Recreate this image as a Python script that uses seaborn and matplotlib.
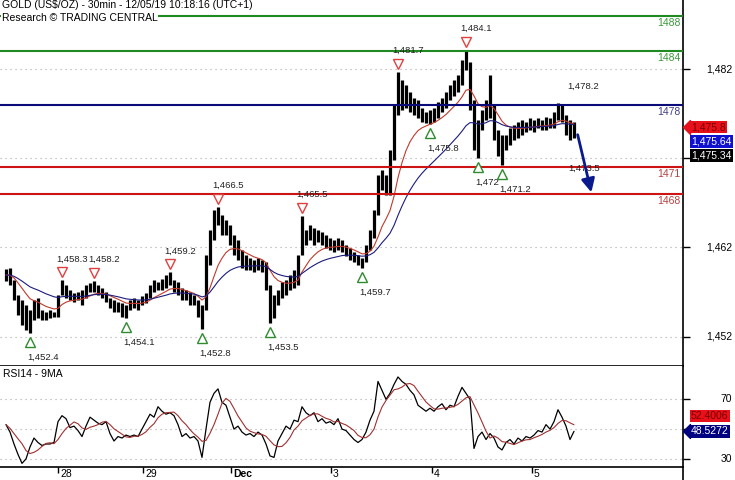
import numpy as np
import pandas as pd
import matplotlib
matplotlib.use("Agg")
import matplotlib.pyplot as plt
import seaborn as sns
from matplotlib import transforms
from matplotlib.lines import Line2D

# hourly bars (27 Nov - 5 Dec 2019)
highs = [1459.6, 1459.7, 1458.3, 1456.7, 1456.1, 1455.5, 1455.0, 1456.1, 1456.3, 1455.0,
         1454.8, 1455.0, 1454.8, 1456.7, 1458.3, 1457.8, 1457.2, 1456.9, 1457.0, 1457.2,
         1457.8, 1458.0, 1458.2, 1457.8, 1457.4, 1457.0, 1456.3, 1456.1, 1455.9, 1455.8,
         1455.5, 1456.1, 1456.3, 1456.1, 1456.5, 1456.9, 1457.8, 1458.3, 1458.1, 1458.5,
         1458.9, 1459.2, 1458.3, 1458.1, 1457.4, 1457.2, 1457.0, 1456.7, 1456.1, 1455.5,
         1461.1, 1464.0, 1466.2, 1466.5, 1465.6, 1465.1, 1464.5, 1463.4, 1462.8, 1461.7,
         1461.1, 1460.8, 1460.6, 1460.8, 1460.6, 1460.4, 1457.8, 1456.7, 1457.2, 1458.1,
         1458.3, 1458.9, 1459.5, 1461.1, 1465.5, 1464.0, 1464.5, 1464.2, 1464.0, 1463.7,
         1463.4, 1463.1, 1462.8, 1463.1, 1462.8, 1462.3, 1461.9, 1461.5, 1461.1, 1460.8,
         1462.3, 1464.0, 1466.2, 1470.1, 1470.7, 1470.1, 1472.9, 1478.0, 1481.7, 1480.8,
         1480.2, 1479.4, 1478.7, 1478.5, 1477.6, 1477.2, 1477.4, 1477.6, 1478.3, 1478.7,
         1479.4, 1480.2, 1480.8, 1481.3, 1483.0, 1484.1, 1482.8, 1478.5, 1476.3, 1477.4,
         1478.5, 1481.3, 1478.0, 1475.2, 1474.6, 1474.6, 1475.4, 1475.7, 1476.1, 1476.3,
         1476.1, 1476.5, 1476.3, 1476.5, 1476.3, 1476.6, 1476.5, 1477.2, 1478.2, 1478.0,
         1476.8, 1476.3, 1476.1]
lows = [1458.2, 1457.8, 1456.1, 1454.4, 1453.3, 1452.7, 1452.4, 1453.9, 1454.1, 1453.9,
        1453.9, 1454.1, 1454.2, 1454.2, 1456.7, 1456.3, 1456.1, 1455.9, 1456.1, 1455.5,
        1456.3, 1457.0, 1457.0, 1456.7, 1456.3, 1455.9, 1455.2, 1454.8, 1454.8, 1454.2,
        1454.1, 1455.0, 1455.2, 1455.0, 1455.5, 1455.8, 1456.3, 1457.0, 1457.2, 1457.2,
        1457.4, 1457.8, 1457.0, 1456.7, 1456.1, 1456.1, 1455.5, 1455.5, 1454.2, 1452.8,
        1455.0, 1460.0, 1462.8, 1464.5, 1463.4, 1463.4, 1462.3, 1461.1, 1460.6, 1459.7,
        1459.5, 1459.5, 1459.2, 1459.5, 1459.2, 1457.2, 1453.5, 1454.1, 1455.5, 1456.3,
        1456.7, 1457.2, 1457.4, 1457.8, 1461.1, 1462.3, 1462.8, 1462.3, 1462.6, 1462.3,
        1461.9, 1461.7, 1461.5, 1461.7, 1461.5, 1461.0, 1460.6, 1460.4, 1460.0, 1459.7,
        1460.4, 1461.7, 1463.1, 1465.6, 1468.4, 1467.9, 1467.9, 1471.8, 1476.8, 1477.4,
        1477.6, 1477.2, 1476.8, 1476.5, 1476.1, 1475.9, 1475.8, 1476.1, 1476.5, 1477.2,
        1477.6, 1478.5, 1479.0, 1479.4, 1480.2, 1481.9, 1477.4, 1472.9, 1472.0, 1475.2,
        1476.3, 1476.5, 1474.0, 1472.3, 1471.2, 1472.9, 1473.5, 1474.0, 1474.3, 1474.6,
        1474.9, 1475.2, 1474.9, 1475.4, 1475.2, 1475.2, 1475.4, 1475.4, 1476.3, 1476.1,
        1474.6, 1474.0, 1474.3]
rsi = [53, 48, 40, 33, 27, 30, 38, 44, 41, 39, 40, 40, 41, 55, 59, 57, 51, 52, 49, 45,
       52, 58, 56, 54, 53, 55, 47, 42, 45, 44, 46, 45, 46, 45, 50, 55, 60, 58, 65, 62,
       60, 61, 59, 53, 45, 47, 44, 45, 42, 31, 50, 68, 74, 77, 68, 66, 58, 50, 52, 48,
       46, 47, 45, 48, 46, 40, 32, 31, 42, 47, 52, 50, 56, 55, 65, 61, 59, 61, 55, 57,
       54, 55, 53, 57, 50, 49, 46, 43, 41, 43, 48, 56, 62, 82, 76, 70, 74, 80, 85, 82,
       80, 76, 73, 66, 64, 62, 64, 62, 65, 67, 63, 66, 65, 72, 78, 74, 70, 37, 45, 48,
       43, 47, 44, 38, 36, 41, 43, 40, 44, 42, 45, 44, 46, 49, 48, 53, 50, 55, 63, 58,
       52, 43, 48.5]

day_pos = [13, 34.25, 56.25, 81.25, 106.5, 131.5]
day_labels = ["28", "29", "Dec", "3", "4", "5"]

levels = [1488, 1484, 1478, 1471, 1468]
level_colors = ["#1f8a1f", "#1f8a1f", "#0a0a78", "#cc1414", "#cc1414"]
level_text_colors = ["#3a9a3a", "#3a9a3a", "#404088", "#b84040", "#b84040"]

peak_idx = [14, 22, 41, 53, 74, 98, 115]
trough_idx = [6, 30, 49, 66, 89, 106, 118, 124]
extra_high = 138

proj_x = [142.75, 146.5]
proj_y = [1474.94, 1467.87]
proj_label = "1,473.5"
proj_label_pos = (140.5, 1470.9)

last_close = "1,475.34"
last_mid = "1,475.64"
last_mark = "1,475.8"
rsi_last = "48.5272"
rsi_ma_last = "52.4006"

df = pd.DataFrame({"high": highs, "low": lows, "rsi": rsi})
df["x"] = np.arange(len(df))
mid = (df["high"] + df["low"]) / 2
df["ma_fast"] = mid.ewm(span=10, adjust=False).mean()
df["ma_slow"] = mid.ewm(span=25, adjust=False).mean()
df["rsi_ma"] = df["rsi"].rolling(5, min_periods=1).mean()

sns.set_theme(style="white")
plt.rcParams["font.family"] = ["Liberation Sans", "DejaVu Sans"]

fig = plt.figure(figsize=(7.35, 4.8), dpi=100)
ax = fig.add_axes([0, 114 / 480, 683 / 735, 366 / 480])
ax2 = fig.add_axes([0, 13 / 480, 683 / 735, 101 / 480])

for a in (ax, ax2):
    a.set_xlim(-1.5, 169.25)
    for s in ("top", "left"):
        a.spines[s].set_visible(False)
    for s in ("right", "bottom"):
        a.spines[s].set_color("black")
        a.spines[s].set_linewidth(1.2)
    a.yaxis.tick_right()
    a.tick_params(axis="y", right=True, direction="out", length=5, width=1,
                  color="black", labelright=False)
ax.set_ylim(1448.70, 1489.74)
ax2.set_ylim(24.56, 92.35)
ax.set_xticks([])
ax.set_yticks([1452, 1462, 1472, 1482])
ax2.set_yticks([30, 50, 70])

dots = dict(color="#a8a8a8", lw=0.8, dashes=(1, 3.5), zorder=0)
for v in [1452, 1462, 1472, 1482]:
    ax.axhline(v, **dots)
for v in [30, 50, 70]:
    ax2.axhline(v, **dots)

# bars
ax.vlines(df["x"], df["low"], df["high"], color="black", lw=2.3, zorder=2)
sns.lineplot(x=df["x"], y=df["ma_fast"], ax=ax, color="#c0392b", lw=0.8, zorder=3)
sns.lineplot(x=df["x"], y=df["ma_slow"], ax=ax, color="#1c1c80", lw=0.8, zorder=3)
ax.set_xlabel("")
ax.set_ylabel("")

bt = transforms.blended_transform_factory(ax.transAxes, ax.transData)
for lvl, c, tc in zip(levels, level_colors, level_text_colors):
    ax.axhline(lvl, color=c, lw=1.5, zorder=4)
    ax.annotate(str(lvl), xy=(1, lvl), xycoords=bt, xytext=(-1.5, -1.5),
                textcoords="offset points", ha="right", va="top",
                fontsize=7.5, color=tc, zorder=5)


def fmt(v):
    s = f"{v:,.1f}"
    return s[:-2] if s.endswith(".0") else s


def shifted(dy_px):
    return ax.transData + transforms.ScaledTranslation(0, dy_px / 100, fig.dpi_scale_trans)


for i in peak_idx:
    v = highs[i]
    ax.plot([i], [v], marker="v", ms=7, mfc="white", mec="#e04040", mew=1,
            transform=shifted(8), zorder=6)
    ax.annotate(fmt(v), xy=(i, v), xytext=(-4.3, 15.5), textcoords="offset points",
                ha="left", va="center", fontsize=6.8, color="#222222", zorder=6)
for i in trough_idx:
    v = lows[i]
    ax.plot([i], [v], marker="^", ms=7, mfc="white", mec="#2e8b2e", mew=1,
            transform=shifted(-9), zorder=6)
    ax.annotate(fmt(v), xy=(i, v), xytext=(-2.2, -17.3), textcoords="offset points",
                ha="left", va="center", fontsize=6.8, color="#222222", zorder=6)
ax.annotate(fmt(highs[extra_high]), xy=(extra_high, highs[extra_high]), xytext=(6.5, 12.2),
            textcoords="offset points", ha="left", va="center", fontsize=6.8,
            color="#222222", zorder=6)

ax.annotate("", xy=(proj_x[1], proj_y[1]), xytext=(proj_x[0], proj_y[0]),
            arrowprops=dict(arrowstyle="-|>", color="#0a1a8c", lw=2, mutation_scale=20),
            zorder=7)
ax.text(proj_label_pos[0], proj_label_pos[1], proj_label, ha="left", va="center",
        fontsize=6.8, color="#222222", zorder=6)

# RSI panel
sns.lineplot(x=df["x"], y=df["rsi"], ax=ax2, color="black", lw=0.9, zorder=3)
sns.lineplot(x=df["x"], y=df["rsi_ma"], ax=ax2, color="#a03030", lw=0.8, zorder=3)
ax2.set_xlabel("")
ax2.set_ylabel("")
ax2.text(3 / 683, 1 - 3 / 101, "RSI14 - 9MA", transform=ax2.transAxes, ha="left",
         va="top", fontsize=7.5, color="black")

ax2.set_xticks(day_pos)
ax2.set_xticklabels([])
ax2.tick_params(axis="x", bottom=True, direction="out", length=4, width=1, color="black")
xt = transforms.blended_transform_factory(ax2.transData, ax2.transAxes)
for p, lab in zip(day_pos, day_labels):
    ax2.text(p + 0.5, -0.02, lab, transform=xt, ha="left", va="top", fontsize=7.5,
             color="black", fontweight="bold" if lab == "Dec" else "normal")

# right axis labels
for a, vals in ((ax, [1482, 1462, 1452]), (ax2, [70, 30])):
    tr = transforms.blended_transform_factory(fig.transFigure, a.transData)
    for v in vals:
        a.text(732 / 735, v, f"{v:,}", transform=tr, ha="right", va="center",
               fontsize=7.5, color="black")

tip = [(0, 0), (1, -1), (1, 1), (0, 0)]


def tag(a, value, text, fc, tc, dy, arrow=False):
    tr = transforms.blended_transform_factory(a.transAxes, a.transData)
    a.annotate(text, xy=(1, value), xycoords=tr, xytext=(5.75, dy),
               textcoords="offset points", ha="left", va="center", fontsize=7.5,
               color=tc, bbox=dict(boxstyle="square,pad=0.12", fc=fc, ec="none"),
               annotation_clip=False, zorder=10)
    if arrow:
        off = tr + transforms.ScaledTranslation(0, dy / 72, fig.dpi_scale_trans)
        a.plot([1], [value], transform=off, marker=tip, ms=10, color=fc, mec=fc,
               clip_on=False, zorder=10)


tag(ax, 1475.8, last_mark, "#e8101a", "#7a0000", -2, arrow=True)
tag(ax, 1475.64, last_mid, "#1010d0", "white", -11.4)
tag(ax, 1475.34, last_close, "black", "white", -19.4)
tag(ax2, 52.4006, rsi_ma_last, "#e8101a", "#7a0000", 6.8)
tag(ax2, 48.5272, rsi_last, "#000080", "white", 0, arrow=True)

fig.add_artist(Line2D([683 / 735, 683 / 735], [0, 13 / 480], color="black", lw=1.2))

fig.text(2 / 735, 1 - 0.5 / 480, "GOLD (US$/OZ) - 30min - 12/05/19 10:18:16 (UTC+1)",
         ha="left", va="top", fontsize=7.5, color="black",
         bbox=dict(boxstyle="square,pad=0", fc="white", ec="none"))
fig.text(2 / 735, 1 - 13 / 480, "Research \u00a9 TRADING CENTRAL",
         ha="left", va="top", fontsize=7.5, color="black",
         bbox=dict(boxstyle="square,pad=0.05", fc="white", ec="none"))

fig.savefig("out.png", dpi=100)
